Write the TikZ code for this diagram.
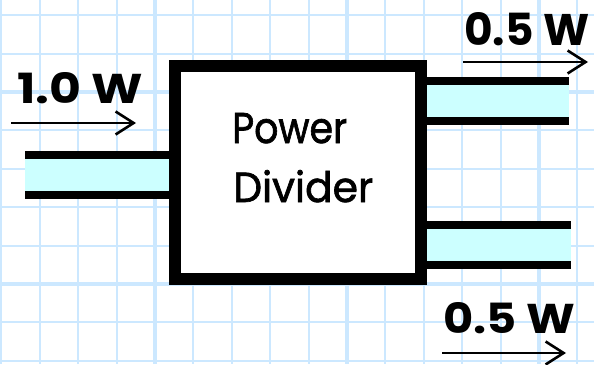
\documentclass[tikz,border=0pt]{standalone}
\usepackage{fontspec}
\usepackage{graphicx}
\setmainfont{Poppins}
\newfontfamily\pdfont[FakeBold=1.6]{Poppins}
\usetikzlibrary{arrows.meta}
\definecolor{gridblue}{RGB}{204,232,255}
\definecolor{tlcyan}{RGB}{204,255,255}
\tikzset{
  gridthin/.style={draw=gridblue, line width=2pt},
  gridthick/.style={draw=gridblue, line width=4.5pt},
  bar/.style={draw=black, line width=8pt, line cap=butt},
  flow/.style={draw=black, line width=2.6pt, -{Straight Barb[length=18pt,width=23pt,line width=2.6pt]}},
  lbl/.style={inner sep=0pt, anchor=base west, font=\bfseries},
  txt/.style={inner sep=0pt, anchor=base west, font=\pdfont},
  dividerbox/.style={draw=black, fill=white, line width=12pt, minimum width=246pt, minimum height=213pt, inner sep=0pt}
}
\begin{document}
\begin{tikzpicture}[x=1pt,y=-1pt]
\useasboundingbox (0,0) rectangle (594,364);
\fill[white] (0,0) rectangle (594,364);
\begin{scope}
\clip (0,0) rectangle (594,364);
\foreach \k in {0,...,15} {\draw[gridthin] (1.4+38.4*\k,0) -- (1.4+38.4*\k,364);}
\foreach \k in {0,...,9} {\draw[gridthin] (0,15.2+38.4*\k) -- (594,15.2+38.4*\k);}
\foreach \k in {4,9,14} {\draw[gridthick] (1.4+38.4*\k,0) -- (1.4+38.4*\k,364);}
\foreach \k in {2,7} {\draw[gridthick] (0,15.2+38.4*\k) -- (594,15.2+38.4*\k);}
\end{scope}

% input line
\fill[tlcyan] (25,159) rectangle (175,191);
\coordinate (ia1) at (25,155); \coordinate (ib1) at (175,155);
\coordinate (ia2) at (25,195); \coordinate (ib2) at (175,195);
\draw[bar] (ia1) -- (ib1);
\draw[bar] (ia2) -- (ib2);

% upper output line
\fill[tlcyan] (421,85) rectangle (569,117);
\coordinate (ua1) at (421,81); \coordinate (ub1) at (569,81);
\coordinate (ua2) at (421,121); \coordinate (ub2) at (569,121);
\draw[bar] (ua1) -- (ub1);
\draw[bar] (ua2) -- (ub2);

% lower output line
\fill[tlcyan] (421,229) rectangle (571,260.5);
\coordinate (la1) at (421,225); \coordinate (lb1) at (571,225);
\coordinate (la2) at (421,264.5); \coordinate (lb2) at (571,264.5);
\draw[bar] (la1) -- (lb1);
\draw[bar] (la2) -- (lb2);

% divider box
\node[dividerbox] (div) at (298,172.5) {};
\node[txt] (p1) at (232,143) {\resizebox{115pt}{30pt}{Power}};
\node[txt] (p2) at (233,202) {\resizebox{140pt}{32pt}{Divider}};

% arrows
\coordinate (fa) at (11,123); \coordinate (fb) at (136,123);
\draw[flow] (fa) -- (fb);
\coordinate (ga) at (463,62); \coordinate (gb) at (588,62);
\draw[flow] (ga) -- (gb);
\coordinate (ha) at (442,353); \coordinate (hb) at (566,353);
\draw[flow] (ha) -- (hb);

% labels
\node[lbl] (lin) at (17,103) {\resizebox{126pt}{31pt}{\bfseries 1.0 W}};
\node[lbl] (lup) at (464,45) {\resizebox{125pt}{33pt}{\bfseries 0.5 W}};
\node[lbl] (llo) at (443,333) {\resizebox{132pt}{31pt}{\bfseries 0.5 W}};
\end{tikzpicture}
\end{document}
